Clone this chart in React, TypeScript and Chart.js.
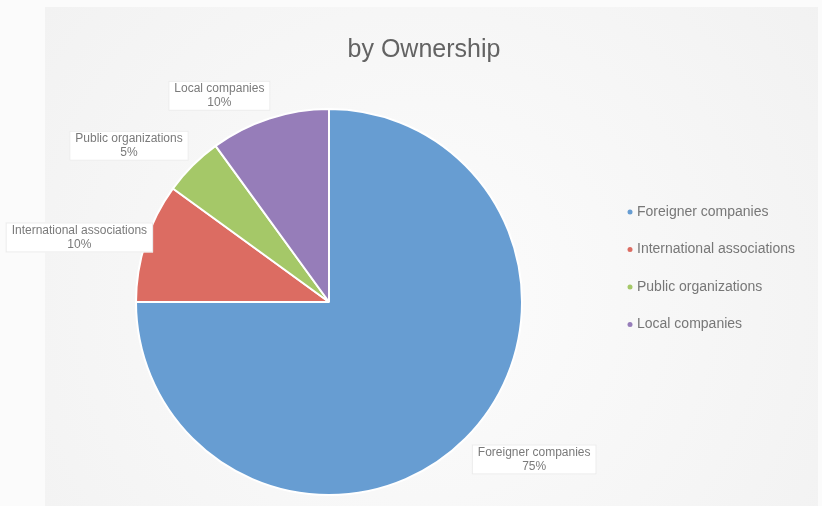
import React, { useEffect, useRef } from "react";
import { Chart, registerables } from "chart.js";

Chart.register(...registerables);

const categories = [
  "Foreigner companies",
  "International associations",
  "Public organizations",
  "Local companies",
];
const shares = [75, 10, 5, 10];
const sliceColors = ["#679dd2", "#dc6c62", "#a5c868", "#967db9"];
const chartTitle = "by Ownership";

// label placement (polar, relative to pie centre): angle from 12 o'clock, radius factor
const labelAngles = [127.5, -75.5, -52, -28];
const labelRadii = [1.34, 1.336, 1.315, 1.21];

const FONT = "'Liberation Sans', Arial, Helvetica, sans-serif";

const decorPlugin = {
  id: "decor",
  beforeDraw(chart: any) {
    const { ctx, width, height } = chart;
    ctx.save();
    ctx.fillStyle = "#fbfbfb";
    ctx.fillRect(0, 0, width, height);
    const g = ctx.createRadialGradient(420, 300, 60, 420, 300, 520);
    g.addColorStop(0, "#fbfbfb");
    g.addColorStop(1, "#f1f1f1");
    ctx.fillStyle = g;
    ctx.fillRect(45, 7, 773, height - 7);
    ctx.restore();
  },
  afterDraw(chart: any) {
    const { ctx } = chart;
    ctx.save();
    // title
    ctx.fillStyle = "#636363";
    ctx.font = `25px ${FONT}`;
    ctx.textAlign = "center";
    ctx.textBaseline = "middle";
    ctx.fillText(chartTitle, 424, 50);

    // data labels
    const meta = chart.getDatasetMeta(0);
    const total = shares.reduce((a, b) => a + b, 0);
    ctx.font = `12px ${FONT}`;
    meta.data.forEach((arc: any, i: number) => {
      const cx = arc.x;
      const cy = arc.y;
      const r = arc.outerRadius;
      const a = (labelAngles[i] * Math.PI) / 180;
      const lx = cx + Math.sin(a) * r * labelRadii[i];
      const ly = cy - Math.cos(a) * r * labelRadii[i];
      const line1 = categories[i];
      const line2 = Math.round((shares[i] / total) * 100) + "%";
      const w = Math.max(ctx.measureText(line1).width, ctx.measureText(line2).width) + 12;
      const h = 30;
      ctx.fillStyle = "#ffffff";
      ctx.fillRect(lx - w / 2, ly - h / 2, w, h);
      ctx.strokeStyle = "#ebebeb";
      ctx.lineWidth = 1;
      ctx.strokeRect(lx - w / 2 + 0.5, ly - h / 2 + 0.5, w - 1, h - 1);
      ctx.fillStyle = "#7a7a7a";
      ctx.textAlign = "center";
      ctx.textBaseline = "middle";
      ctx.fillText(line1, lx, ly - 7);
      ctx.fillText(line2, lx, ly + 7);
    });

    // legend
    ctx.font = `14px ${FONT}`;
    ctx.textAlign = "left";
    ctx.textBaseline = "middle";
    categories.forEach((c, i) => {
      const y = 212 + i * 37.5;
      ctx.fillStyle = sliceColors[i];
      ctx.beginPath();
      ctx.arc(630, y, 2.5, 0, Math.PI * 2);
      ctx.fill();
      ctx.fillStyle = "#777777";
      ctx.fillText(c, 637, y);
    });
    ctx.restore();
  },
};

export default function App() {
  const ref = useRef<HTMLCanvasElement>(null);
  useEffect(() => {
    document.body.style.margin = "0";
    const chart = new Chart(ref.current!, {
      type: "pie",
      data: {
        labels: categories,
        datasets: [
          {
            data: shares,
            backgroundColor: sliceColors,
            borderColor: "#ffffff",
            borderWidth: 2,
          },
        ],
      },
      options: {
        animation: false,
        responsive: false,
        rotation: 0,
        layout: { padding: { left: 135, top: 108, right: 299, bottom: 10 } },
        plugins: {
          legend: { display: false },
          title: { display: false },
          tooltip: { enabled: false },
        },
      },
      plugins: [decorPlugin],
    });
    return () => chart.destroy();
  }, []);
  return (
    <div style={{ position: "absolute", left: 0, top: 0, width: 822, height: 506 }}>
      <canvas ref={ref} width={822} height={506} style={{ width: 822, height: 506 }} />
    </div>
  );
}
